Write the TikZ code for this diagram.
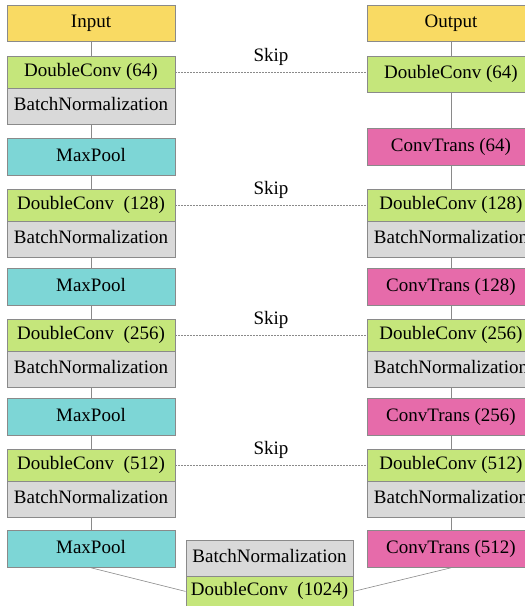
\documentclass[tikz,border=0pt]{standalone}
\usepackage{fontspec}
\setmainfont{Liberation Serif}
\usetikzlibrary{positioning}

\definecolor{ioyellow}{HTML}{F9DA63}
\definecolor{convgreen}{HTML}{C5E67B}
\definecolor{poolcyan}{HTML}{7DD6D6}
\definecolor{transpink}{HTML}{E66BAA}
\definecolor{normgray}{HTML}{D9D9D9}
\definecolor{edgegray}{HTML}{8A8A8A}

\begin{document}
\begin{tikzpicture}
  [
    x=1pt, y=-1pt,
    every node/.style={font=\fontsize{19}{22}\selectfont},
    block/.style = {draw=edgegray, line width=0.8pt, rectangle, minimum width=168pt, inner sep=0pt, text height=13pt, text depth=4pt, anchor=north},
    ioblock/.style    = {block, fill=ioyellow, minimum height=36pt},
    convblock/.style  = {block, fill=convgreen, minimum height=32pt},
    normblock/.style  = {block, fill=normgray, minimum height=36pt},
    poolblock/.style  = {block, fill=poolcyan, minimum height=37pt},
    transblock/.style = {block, fill=transpink, minimum height=37pt},
    joinline/.style = {draw=edgegray, line width=0.6pt},
    skipline/.style = {draw=edgegray, line width=0.6pt, dash pattern=on 2pt off 1pt},
    skiplabel/.style = {midway, above=7pt, inner sep=0pt, text height=13pt, text depth=4pt},
  ]

  \useasboundingbox (0,0) rectangle (525,606);

  % the two columns
  \def\lx{91}
  \def\rx{451}

  % Encoder stage #1
  \node (input) at (\lx,5) [ioblock] {Input};
  \node (dcA) at (\lx,56) [convblock] {DoubleConv (64)};
  \node (bnA) at (\lx,88) [normblock] {BatchNormalization};
  \node (poolA) at (\lx,138) [poolblock] {MaxPool};

  % Encoder stage #2
  \node (dcB) at (\lx,189) [convblock] {DoubleConv~ (128)};
  \node (bnB) at (\lx,221) [normblock] {BatchNormalization};
  \node (poolB) at (\lx,268) [poolblock] {MaxPool};

  % Encoder stage #3
  \node (dcC) at (\lx,319) [convblock] {DoubleConv~ (256)};
  \node (bnC) at (\lx,351) [normblock] {BatchNormalization};
  \node (poolC) at (\lx,398) [poolblock] {MaxPool};

  % Encoder stage #4
  \node (dcD) at (\lx,449) [convblock] {DoubleConv~ (512)};
  \node (bnD) at (\lx,481) [normblock] {BatchNormalization};
  \node (poolD) at (\lx,530) [poolblock] {MaxPool};

  % Bottleneck
  \node (bnE) at (269.5,540) [normblock, minimum width=167pt] {BatchNormalization};
  \node (dcE) at (269.5,576) [convblock, minimum width=167pt, minimum height=30pt] {DoubleConv~ (1024)};

  % Decoder stage #1
  \node (output) at (\rx,5) [ioblock] {Output};
  \node (upA) at (\rx,56) [convblock, minimum height=36pt] {DoubleConv (64)};
  \node (trA) at (\rx,128) [transblock] {ConvTrans (64)};

  % Decoder stage #2
  \node (upB) at (\rx,189) [convblock] {DoubleConv (128)};
  \node (bnUB) at (\rx,221) [normblock] {BatchNormalization};
  \node (trB) at (\rx,268) [transblock] {ConvTrans (128)};

  % Decoder stage #3
  \node (upC) at (\rx,319) [convblock] {DoubleConv (256)};
  \node (bnUC) at (\rx,351) [normblock] {BatchNormalization};
  \node (trC) at (\rx,398) [transblock] {ConvTrans (256)};

  % Decoder stage #4
  \node (upD) at (\rx,449) [convblock] {DoubleConv (512)};
  \node (bnUD) at (\rx,481) [normblock] {BatchNormalization};
  \node (trD) at (\rx,530) [transblock] {ConvTrans (512)};

  % encoder connectors
  \draw [joinline] (input) -- (dcA);
  \draw [joinline] (bnA) -- (poolA);
  \draw [joinline] (poolA) -- (dcB);
  \draw [joinline] (bnB) -- (poolB);
  \draw [joinline] (poolB) -- (dcC);
  \draw [joinline] (bnC) -- (poolC);
  \draw [joinline] (poolC) -- (dcD);
  \draw [joinline] (bnD) -- (poolD);
  \draw [joinline] (poolD.south) -- (dcE.west);

  % decoder connectors
  \draw [joinline] (output) -- (upA);
  \draw [joinline] (upA) -- (trA);
  \draw [joinline] (trA) -- (upB);
  \draw [joinline] (bnUB) -- (trB);
  \draw [joinline] (trB) -- (upC);
  \draw [joinline] (bnUC) -- (trC);
  \draw [joinline] (trC) -- (upD);
  \draw [joinline] (bnUD) -- (trD);
  \draw [joinline] (trD.south) -- (dcE.east);

  % skip connections
  \draw [skipline] (dcA.east) -- node [skiplabel] {Skip} (dcA.east -| upA.west);
  \draw [skipline] (dcB.east) -- node [skiplabel] {Skip} (upB.west);
  \draw [skipline] (dcC.east) -- node [skiplabel] {Skip} (upC.west);
  \draw [skipline] (dcD.east) -- node [skiplabel] {Skip} (upD.west);
\end{tikzpicture}
\end{document}
